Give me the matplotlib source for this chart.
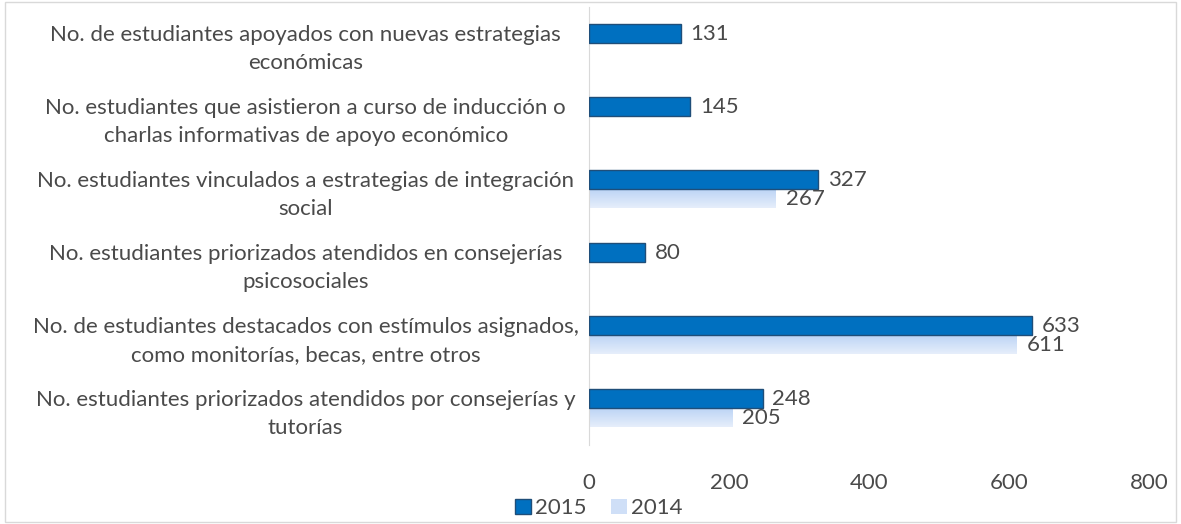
import numpy as np
import matplotlib
matplotlib.use("Agg")
import matplotlib.pyplot as plt
from matplotlib.patches import Rectangle

# Datos
categorias = [
    "No. de estudiantes apoyados con nuevas estrategias\neconómicas",
    "No. estudiantes que asistieron a curso de inducción o\ncharlas informativas de apoyo económico",
    "No. estudiantes vinculados a estrategias de integración\nsocial",
    "No. estudiantes priorizados atendidos en consejerías\npsicosociales",
    "No. de estudiantes destacados con estímulos asignados,\ncomo monitorías, becas, entre otros",
    "No. estudiantes priorizados atendidos por consejerías y\ntutorías",
]
valores_2015 = [131, 145, 327, 80, 633, 248]
valores_2014 = [None, None, 267, None, 611, 205]
xticks = [0, 200, 400, 600, 800]

plt.rcParams['font.family'] = ['Lato', 'DejaVu Sans']
gris = "#4a4a4a"
fs = 16

fig = plt.figure(figsize=(11.81, 5.24), dpi=100)
ax = fig.add_axes([0.4987, 0.151, 0.4742, 0.836])

n = len(categorias)
y = np.arange(n)
h = 0.26

# Barras 2015
ax.barh(y - h / 2, valores_2015, height=h, color="#0070c0", edgecolor="#1f4e79",
        linewidth=1, label="2015", zorder=3)

# Barras 2014 con degradado vertical
grad = np.linspace(0, 1, 64).reshape(-1, 1)
cmap = matplotlib.colors.LinearSegmentedColormap.from_list("g", ["#bcd4f5", "#e6eefb"])
for yi, v in zip(y, valores_2014):
    if v is None:
        continue
    r = Rectangle((0, yi), v, h, facecolor="none", edgecolor="none")
    ax.add_patch(r)
    im = ax.imshow(grad, cmap=cmap, aspect="auto", extent=(0, v, yi + h, yi),
                   zorder=2)
    im.set_clip_path(r)

# Etiquetas
for yi, v in zip(y, valores_2015):
    ax.text(v + 14, yi - h / 2, str(v), va="center", ha="left", fontsize=fs, color=gris)
for yi, v in zip(y, valores_2014):
    if v is not None:
        ax.text(v + 14, yi + h / 2, str(v), va="center", ha="left", fontsize=fs,
                color=gris)

ax.set_xlim(0, 800)
ax.set_ylim(n - 0.5, -0.5)
ax.set_xticks(xticks)
ax.set_xticklabels([str(t) for t in xticks])
ax.set_yticks(y)
ax.set_yticklabels(categorias, ha="center", linespacing=1.5)
ax.tick_params(axis="y", length=0, pad=204, labelsize=fs, labelcolor=gris)
ax.tick_params(axis="x", length=0, pad=20, labelsize=fs, labelcolor=gris)
for s in ["top", "right", "bottom"]:
    ax.spines[s].set_visible(False)
ax.spines["left"].set_color("#d9d9d9")

# Leyenda
h1 = Rectangle((0, 0), 1, 1, facecolor="#0070c0", edgecolor="#1f4e79")
h2 = Rectangle((0, 0), 1, 1, facecolor="#cfdff7", edgecolor="none")
fig.legend([h1, h2], ["2015", "2014"], loc="center", bbox_to_anchor=(0.507, 0.03),
           ncol=2, frameon=False, fontsize=fs, labelcolor=gris, handlelength=0.7,
           handleheight=0.7, handletextpad=0.2, columnspacing=1.1)

# Borde
fig.patches.append(Rectangle((0.004, 0.004), 0.992, 0.992, transform=fig.transFigure,
                             fill=False, edgecolor="#d9d9d9", linewidth=1))

fig.savefig("out.png", dpi=100)
